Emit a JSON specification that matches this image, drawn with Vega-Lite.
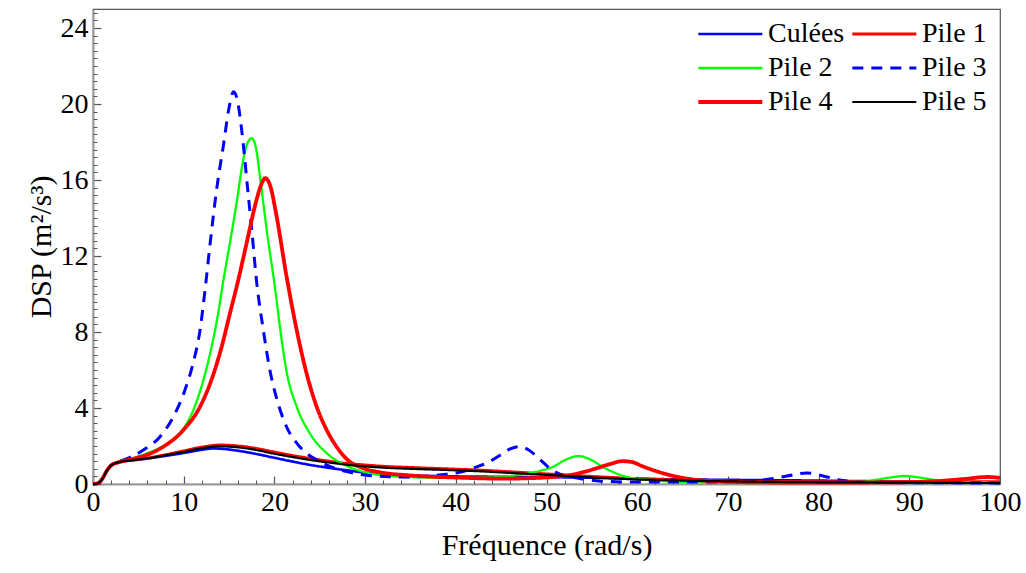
{
  "$schema": "https://vega.github.io/schema/vega-lite/v6.json",
  "width": 907,
  "height": 475,
  "autosize": {"type": "none"},
  "padding": {"left": 93, "top": 9, "right": 26, "bottom": 89},
  "background": "white",
  "config": {
    "view": {"stroke": "#555", "strokeWidth": 1.2},
    "font": "Liberation Serif",
    "axis": {"grid": false, "labelFont": "Liberation Serif", "titleFont": "Liberation Serif", "labelColor": "black", "titleColor": "black", "titleFontWeight": "normal"},
    "legend": {"labelFont": "Liberation Serif"}
  },
  "datasets": {
    "curves": [
      {"s":"Culées","f":0,"v":0},{"s":"Culées","f":0.5,"v":0.03},{"s":"Culées","f":1,"v":0.25},{"s":"Culées","f":1.5,"v":0.68},{"s":"Culées","f":2,"v":0.98},{"s":"Culées","f":2.5,"v":1.1},{"s":"Culées","f":3,"v":1.17},{"s":"Culées","f":4,"v":1.23},{"s":"Culées","f":5,"v":1.28},{"s":"Culées","f":6,"v":1.34},{"s":"Culées","f":8,"v":1.48},{"s":"Culées","f":10,"v":1.63},{"s":"Culées","f":12,"v":1.8},{"s":"Culées","f":13.3,"v":1.87},{"s":"Culées","f":14.5,"v":1.84},{"s":"Culées","f":16,"v":1.75},{"s":"Culées","f":18,"v":1.58},{"s":"Culées","f":20,"v":1.38},{"s":"Culées","f":22,"v":1.18},{"s":"Culées","f":24,"v":1.0},{"s":"Culées","f":26,"v":0.85},{"s":"Culées","f":28,"v":0.72},{"s":"Culées","f":30,"v":0.6},{"s":"Culées","f":32,"v":0.5},{"s":"Culées","f":35,"v":0.44},{"s":"Culées","f":40,"v":0.4},{"s":"Culées","f":45,"v":0.38},{"s":"Culées","f":50,"v":0.36},{"s":"Culées","f":55,"v":0.33},{"s":"Culées","f":60,"v":0.28},{"s":"Culées","f":65,"v":0.24},{"s":"Culées","f":70,"v":0.22},{"s":"Culées","f":75,"v":0.2},{"s":"Culées","f":80,"v":0.18},{"s":"Culées","f":85,"v":0.15},{"s":"Culées","f":90,"v":0.12},{"s":"Culées","f":95,"v":0.1},{"s":"Culées","f":100,"v":0.08},

      {"s":"Pile 1","f":0,"v":0},{"s":"Pile 1","f":0.5,"v":0.03},{"s":"Pile 1","f":1,"v":0.25},{"s":"Pile 1","f":1.5,"v":0.68},{"s":"Pile 1","f":2,"v":0.98},{"s":"Pile 1","f":2.5,"v":1.1},{"s":"Pile 1","f":3,"v":1.17},{"s":"Pile 1","f":4,"v":1.24},{"s":"Pile 1","f":5,"v":1.3},{"s":"Pile 1","f":6,"v":1.37},{"s":"Pile 1","f":8,"v":1.54},{"s":"Pile 1","f":10,"v":1.74},{"s":"Pile 1","f":12,"v":1.94},{"s":"Pile 1","f":14,"v":2.05},{"s":"Pile 1","f":16,"v":2.0},{"s":"Pile 1","f":18,"v":1.87},{"s":"Pile 1","f":20,"v":1.68},{"s":"Pile 1","f":22,"v":1.5},{"s":"Pile 1","f":24,"v":1.34},{"s":"Pile 1","f":26,"v":1.2},{"s":"Pile 1","f":28,"v":1.08},{"s":"Pile 1","f":30,"v":1.0},{"s":"Pile 1","f":32,"v":0.93},{"s":"Pile 1","f":35,"v":0.87},{"s":"Pile 1","f":40,"v":0.78},{"s":"Pile 1","f":43,"v":0.72},{"s":"Pile 1","f":46,"v":0.64},{"s":"Pile 1","f":50,"v":0.53},{"s":"Pile 1","f":53,"v":0.45},{"s":"Pile 1","f":56,"v":0.37},{"s":"Pile 1","f":60,"v":0.28},{"s":"Pile 1","f":65,"v":0.2},{"s":"Pile 1","f":70,"v":0.15},{"s":"Pile 1","f":75,"v":0.12},{"s":"Pile 1","f":80,"v":0.1},{"s":"Pile 1","f":85,"v":0.1},{"s":"Pile 1","f":90,"v":0.1},{"s":"Pile 1","f":95,"v":0.11},{"s":"Pile 1","f":100,"v":0.12},

      {"s":"Pile 2","f":0,"v":0},{"s":"Pile 2","f":0.5,"v":0.03},{"s":"Pile 2","f":1,"v":0.25},{"s":"Pile 2","f":1.5,"v":0.68},{"s":"Pile 2","f":2,"v":0.98},{"s":"Pile 2","f":2.5,"v":1.1},{"s":"Pile 2","f":3,"v":1.17},{"s":"Pile 2","f":4,"v":1.3},{"s":"Pile 2","f":5,"v":1.45},{"s":"Pile 2","f":5.92,"v":1.61},{"s":"Pile 2","f":7.75,"v":2.0},{"s":"Pile 2","f":9.59,"v":2.67},{"s":"Pile 2","f":11.06,"v":3.89},{"s":"Pile 2","f":12.17,"v":5.47},{"s":"Pile 2","f":13.08,"v":7.23},{"s":"Pile 2","f":13.8,"v":8.98},{"s":"Pile 2","f":14.37,"v":10.7},{"s":"Pile 2","f":15.1,"v":12.7},{"s":"Pile 2","f":15.9,"v":15.0},{"s":"Pile 2","f":16.5,"v":16.9},{"s":"Pile 2","f":17,"v":17.9},{"s":"Pile 2","f":17.5,"v":18.2},{"s":"Pile 2","f":18,"v":17.6},{"s":"Pile 2","f":18.4,"v":16.2},{"s":"Pile 2","f":19.2,"v":13.2},{"s":"Pile 2","f":20.07,"v":10.3},{"s":"Pile 2","f":20.6,"v":8.3},{"s":"Pile 2","f":21.35,"v":5.9},{"s":"Pile 2","f":22.46,"v":4.07},{"s":"Pile 2","f":23.9,"v":2.67},{"s":"Pile 2","f":25.8,"v":1.61},{"s":"Pile 2","f":28,"v":0.95},{"s":"Pile 2","f":30,"v":0.62},{"s":"Pile 2","f":31.6,"v":0.48},{"s":"Pile 2","f":35,"v":0.36},{"s":"Pile 2","f":40,"v":0.33},{"s":"Pile 2","f":42.7,"v":0.34},{"s":"Pile 2","f":45.2,"v":0.38},{"s":"Pile 2","f":47,"v":0.48},{"s":"Pile 2","f":48.2,"v":0.58},{"s":"Pile 2","f":49.5,"v":0.72},{"s":"Pile 2","f":50.7,"v":0.9},{"s":"Pile 2","f":52,"v":1.25},{"s":"Pile 2","f":53.5,"v":1.47},{"s":"Pile 2","f":55,"v":1.25},{"s":"Pile 2","f":56.2,"v":0.9},{"s":"Pile 2","f":57.5,"v":0.6},{"s":"Pile 2","f":58.9,"v":0.37},{"s":"Pile 2","f":61.8,"v":0.2},{"s":"Pile 2","f":65,"v":0.1},{"s":"Pile 2","f":70,"v":0.07},{"s":"Pile 2","f":75,"v":0.06},{"s":"Pile 2","f":80,"v":0.06},{"s":"Pile 2","f":84,"v":0.12},{"s":"Pile 2","f":86,"v":0.2},{"s":"Pile 2","f":88,"v":0.35},{"s":"Pile 2","f":89.5,"v":0.42},{"s":"Pile 2","f":91,"v":0.35},{"s":"Pile 2","f":93,"v":0.2},{"s":"Pile 2","f":96,"v":0.1},{"s":"Pile 2","f":100,"v":0.07},

      {"s":"Pile 3","f":0,"v":0},{"s":"Pile 3","f":0.5,"v":0.03},{"s":"Pile 3","f":1,"v":0.25},{"s":"Pile 3","f":1.5,"v":0.68},{"s":"Pile 3","f":2,"v":0.98},{"s":"Pile 3","f":2.5,"v":1.1},{"s":"Pile 3","f":3,"v":1.2},{"s":"Pile 3","f":4.08,"v":1.4},{"s":"Pile 3","f":5.55,"v":1.79},{"s":"Pile 3","f":7.39,"v":2.49},{"s":"Pile 3","f":8.86,"v":3.54},{"s":"Pile 3","f":10.14,"v":4.95},{"s":"Pile 3","f":11.06,"v":6.4},{"s":"Pile 3","f":11.8,"v":8.1},{"s":"Pile 3","f":12.35,"v":10.2},{"s":"Pile 3","f":12.9,"v":12.6},{"s":"Pile 3","f":13.6,"v":15.4},{"s":"Pile 3","f":14.4,"v":17.9},{"s":"Pile 3","f":15,"v":19.8},{"s":"Pile 3","f":15.5,"v":20.65},{"s":"Pile 3","f":16,"v":20.0},{"s":"Pile 3","f":16.4,"v":18.6},{"s":"Pile 3","f":17.1,"v":15.3},{"s":"Pile 3","f":17.5,"v":13.4},{"s":"Pile 3","f":18.05,"v":10.6},{"s":"Pile 3","f":18.78,"v":8.1},{"s":"Pile 3","f":19.5,"v":6.0},{"s":"Pile 3","f":20.25,"v":4.5},{"s":"Pile 3","f":21.35,"v":3.0},{"s":"Pile 3","f":22.8,"v":1.96},{"s":"Pile 3","f":24.7,"v":1.26},{"s":"Pile 3","f":26,"v":0.95},{"s":"Pile 3","f":28,"v":0.65},{"s":"Pile 3","f":30,"v":0.47},{"s":"Pile 3","f":33,"v":0.38},{"s":"Pile 3","f":35,"v":0.37},{"s":"Pile 3","f":37,"v":0.42},{"s":"Pile 3","f":39,"v":0.52},{"s":"Pile 3","f":40.8,"v":0.65},{"s":"Pile 3","f":42,"v":0.85},{"s":"Pile 3","f":43.8,"v":1.2},{"s":"Pile 3","f":45,"v":1.55},{"s":"Pile 3","f":46,"v":1.85},{"s":"Pile 3","f":47,"v":1.97},{"s":"Pile 3","f":48,"v":1.8},{"s":"Pile 3","f":49.3,"v":1.28},{"s":"Pile 3","f":50.3,"v":0.85},{"s":"Pile 3","f":51.1,"v":0.6},{"s":"Pile 3","f":53.4,"v":0.32},{"s":"Pile 3","f":56,"v":0.15},{"s":"Pile 3","f":60,"v":0.1},{"s":"Pile 3","f":65,"v":0.1},{"s":"Pile 3","f":70,"v":0.12},{"s":"Pile 3","f":73,"v":0.18},{"s":"Pile 3","f":74.6,"v":0.26},{"s":"Pile 3","f":76.5,"v":0.42},{"s":"Pile 3","f":78.7,"v":0.58},{"s":"Pile 3","f":80.5,"v":0.42},{"s":"Pile 3","f":82.5,"v":0.2},{"s":"Pile 3","f":85,"v":0.1},{"s":"Pile 3","f":90,"v":0.07},{"s":"Pile 3","f":95,"v":0.06},{"s":"Pile 3","f":100,"v":0.05},

      {"s":"Pile 4","f":0,"v":0},{"s":"Pile 4","f":0.5,"v":0.03},{"s":"Pile 4","f":1,"v":0.25},{"s":"Pile 4","f":1.5,"v":0.68},{"s":"Pile 4","f":2,"v":0.98},{"s":"Pile 4","f":2.5,"v":1.1},{"s":"Pile 4","f":3,"v":1.17},{"s":"Pile 4","f":4,"v":1.28},{"s":"Pile 4","f":5,"v":1.4},{"s":"Pile 4","f":5.92,"v":1.53},{"s":"Pile 4","f":7.75,"v":1.96},{"s":"Pile 4","f":9.96,"v":2.84},{"s":"Pile 4","f":11.8,"v":4.07},{"s":"Pile 4","f":13.0,"v":5.4},{"s":"Pile 4","f":14.19,"v":7.23},{"s":"Pile 4","f":15.1,"v":8.98},{"s":"Pile 4","f":16.0,"v":10.7},{"s":"Pile 4","f":16.9,"v":12.6},{"s":"Pile 4","f":18,"v":14.9},{"s":"Pile 4","f":18.5,"v":15.7},{"s":"Pile 4","f":19,"v":16.1},{"s":"Pile 4","f":19.6,"v":15.6},{"s":"Pile 4","f":20.2,"v":14.2},{"s":"Pile 4","f":21.35,"v":10.9},{"s":"Pile 4","f":22.46,"v":8.1},{"s":"Pile 4","f":23.56,"v":5.8},{"s":"Pile 4","f":24.66,"v":4.07},{"s":"Pile 4","f":25.77,"v":2.84},{"s":"Pile 4","f":26.8,"v":2.0},{"s":"Pile 4","f":28,"v":1.3},{"s":"Pile 4","f":30,"v":0.8},{"s":"Pile 4","f":31.6,"v":0.62},{"s":"Pile 4","f":35,"v":0.45},{"s":"Pile 4","f":40,"v":0.34},{"s":"Pile 4","f":42.7,"v":0.3},{"s":"Pile 4","f":45,"v":0.28},{"s":"Pile 4","f":49,"v":0.32},{"s":"Pile 4","f":51,"v":0.38},{"s":"Pile 4","f":52.6,"v":0.47},{"s":"Pile 4","f":54,"v":0.62},{"s":"Pile 4","f":55.6,"v":0.84},{"s":"Pile 4","f":57,"v":1.05},{"s":"Pile 4","f":58.4,"v":1.2},{"s":"Pile 4","f":59.5,"v":1.15},{"s":"Pile 4","f":60.5,"v":0.95},{"s":"Pile 4","f":61.7,"v":0.74},{"s":"Pile 4","f":63.6,"v":0.47},{"s":"Pile 4","f":66,"v":0.25},{"s":"Pile 4","f":70,"v":0.12},{"s":"Pile 4","f":75,"v":0.08},{"s":"Pile 4","f":80,"v":0.08},{"s":"Pile 4","f":85,"v":0.08},{"s":"Pile 4","f":90,"v":0.1},{"s":"Pile 4","f":93,"v":0.15},{"s":"Pile 4","f":96,"v":0.26},{"s":"Pile 4","f":98.6,"v":0.37},{"s":"Pile 4","f":100,"v":0.32},

      {"s":"Pile 5","f":0,"v":0},{"s":"Pile 5","f":0.5,"v":0.03},{"s":"Pile 5","f":1,"v":0.25},{"s":"Pile 5","f":1.5,"v":0.68},{"s":"Pile 5","f":2,"v":0.98},{"s":"Pile 5","f":2.5,"v":1.1},{"s":"Pile 5","f":3,"v":1.17},{"s":"Pile 5","f":4,"v":1.23},{"s":"Pile 5","f":5,"v":1.29},{"s":"Pile 5","f":6,"v":1.35},{"s":"Pile 5","f":8,"v":1.51},{"s":"Pile 5","f":10,"v":1.69},{"s":"Pile 5","f":12,"v":1.88},{"s":"Pile 5","f":14,"v":1.98},{"s":"Pile 5","f":16,"v":1.93},{"s":"Pile 5","f":18,"v":1.79},{"s":"Pile 5","f":20,"v":1.59},{"s":"Pile 5","f":22,"v":1.42},{"s":"Pile 5","f":24,"v":1.26},{"s":"Pile 5","f":26,"v":1.13},{"s":"Pile 5","f":28,"v":1.01},{"s":"Pile 5","f":30,"v":0.93},{"s":"Pile 5","f":32,"v":0.86},{"s":"Pile 5","f":35,"v":0.8},{"s":"Pile 5","f":40,"v":0.72},{"s":"Pile 5","f":43,"v":0.66},{"s":"Pile 5","f":46,"v":0.58},{"s":"Pile 5","f":50,"v":0.48},{"s":"Pile 5","f":53,"v":0.4},{"s":"Pile 5","f":56,"v":0.32},{"s":"Pile 5","f":60,"v":0.24},{"s":"Pile 5","f":65,"v":0.18},{"s":"Pile 5","f":70,"v":0.14},{"s":"Pile 5","f":75,"v":0.11},{"s":"Pile 5","f":80,"v":0.09},{"s":"Pile 5","f":85,"v":0.08},{"s":"Pile 5","f":90,"v":0.07},{"s":"Pile 5","f":95,"v":0.06},{"s":"Pile 5","f":100,"v":0.05}
    ]
  },
  "layer": [
    {
      "data": {"name": "curves"},
      "mark": {"type": "line", "interpolate": "monotone"},
      "encoding": {
        "x": {
          "field": "f", "type": "quantitative",
          "scale": {"domain": [0, 100], "nice": false, "zero": false},
          "axis": {
            "values": [0, 10, 20, 30, 40, 50, 60, 70, 80, 90, 100],
            "tickSize": -8, "tickColor": "#555", "tickWidth": 1.2,
            "domainColor": "#999", "domainWidth": 2,
            "labelPadding": 12, "labelFontSize": 28, "labelFlush": false,
            "title": "Fréquence (rad/s)", "titleFontSize": 30, "titlePadding": 14
          }
        },
        "y": {
          "field": "v", "type": "quantitative",
          "scale": {"domain": [0, 25], "nice": false},
          "axis": {
            "values": [0, 4, 8, 12, 16, 20, 24],
            "tickSize": -8, "tickColor": "#555", "tickWidth": 1.2,
            "domainColor": "#999", "domainWidth": 2,
            "labelPadding": 13, "labelFontSize": 28,
            "title": "DSP (m²/s³)", "titleFontSize": 30, "titlePadding": 4
          }
        },
        "color": {
          "field": "s", "type": "nominal",
          "scale": {"domain": ["Culées", "Pile 1", "Pile 2", "Pile 3", "Pile 4", "Pile 5"], "range": ["#0000ff", "#ff0000", "#00ff00", "#0000ff", "#ff0000", "#000000"]},
          "legend": {
            "title": null, "orient": "none", "direction": "horizontal", "legendX": 602, "legendY": 11, "columns": 2,
            "symbolType": "M-1,0H5", "symbolSize": 455, "labelOffset": 45,
            "labelFontSize": 28, "labelColor": "black",
            "rowPadding": 6, "columnPadding": 1
          }
        },
        "strokeDash": {
          "field": "s", "type": "nominal",
          "scale": {"domain": ["Culées", "Pile 1", "Pile 2", "Pile 3", "Pile 4", "Pile 5"], "range": [[1, 0], [1, 0], [1, 0], [11, 8], [1, 0], [1, 0]]},
          "legend": {
            "title": null, "orient": "none", "direction": "horizontal", "legendX": 602, "legendY": 11, "columns": 2,
            "symbolType": "M-1,0H5", "symbolSize": 455, "labelOffset": 45,
            "labelFontSize": 28, "labelColor": "black",
            "rowPadding": 6, "columnPadding": 1
          }
        },
        "strokeWidth": {
          "field": "s", "type": "nominal",
          "scale": {"type": "ordinal", "domain": ["Culées", "Pile 1", "Pile 2", "Pile 3", "Pile 4", "Pile 5"], "range": [2.6, 3, 2.3, 3, 3.8, 2.2]},
          "legend": {
            "title": null, "orient": "none", "direction": "horizontal", "legendX": 602, "legendY": 11, "columns": 2,
            "symbolType": "M-1,0H5", "symbolSize": 455, "labelOffset": 45,
            "labelFontSize": 28, "labelColor": "black",
            "rowPadding": 6, "columnPadding": 1
          }
        }
      }
    },
    {
      "data": {"values": [{"f": 0, "v": 0}]},
      "mark": {"type": "point", "opacity": 0},
      "encoding": {
        "x": {
          "field": "f", "type": "quantitative",
          "axis": {
            "orient": "bottom", "values": [2,4,6,8,12,14,16,18,22,24,26,28,32,34,36,38,42,44,46,48,52,54,56,58,62,64,66,68,72,74,76,78,82,84,86,88,92,94,96,98],
            "labels": false, "domain": false, "tickSize": -4, "tickColor": "#555", "tickWidth": 1, "title": null
          }
        },
        "y": {
          "field": "v", "type": "quantitative",
          "axis": {
            "orient": "left", "values": [0.4,0.8,1.2,1.6,2,2.4,2.8,3.2,3.6,4.4,4.8,5.2,5.6,6,6.4,6.8,7.2,7.6,8.4,8.8,9.2,9.6,10,10.4,10.8,11.2,11.6,12.4,12.8,13.2,13.6,14,14.4,14.8,15.2,15.6,16.4,16.8,17.2,17.6,18,18.4,18.8,19.2,19.6,20.4,20.8,21.2,21.6,22,22.4,22.8,23.2,23.6,24.4,24.8],
            "labels": false, "domain": false, "tickSize": -4, "tickColor": "#555", "tickWidth": 1, "title": null
          }
        }
      }
    }
  ],
  "resolve": {"axis": {"x": "independent", "y": "independent"}}
}
